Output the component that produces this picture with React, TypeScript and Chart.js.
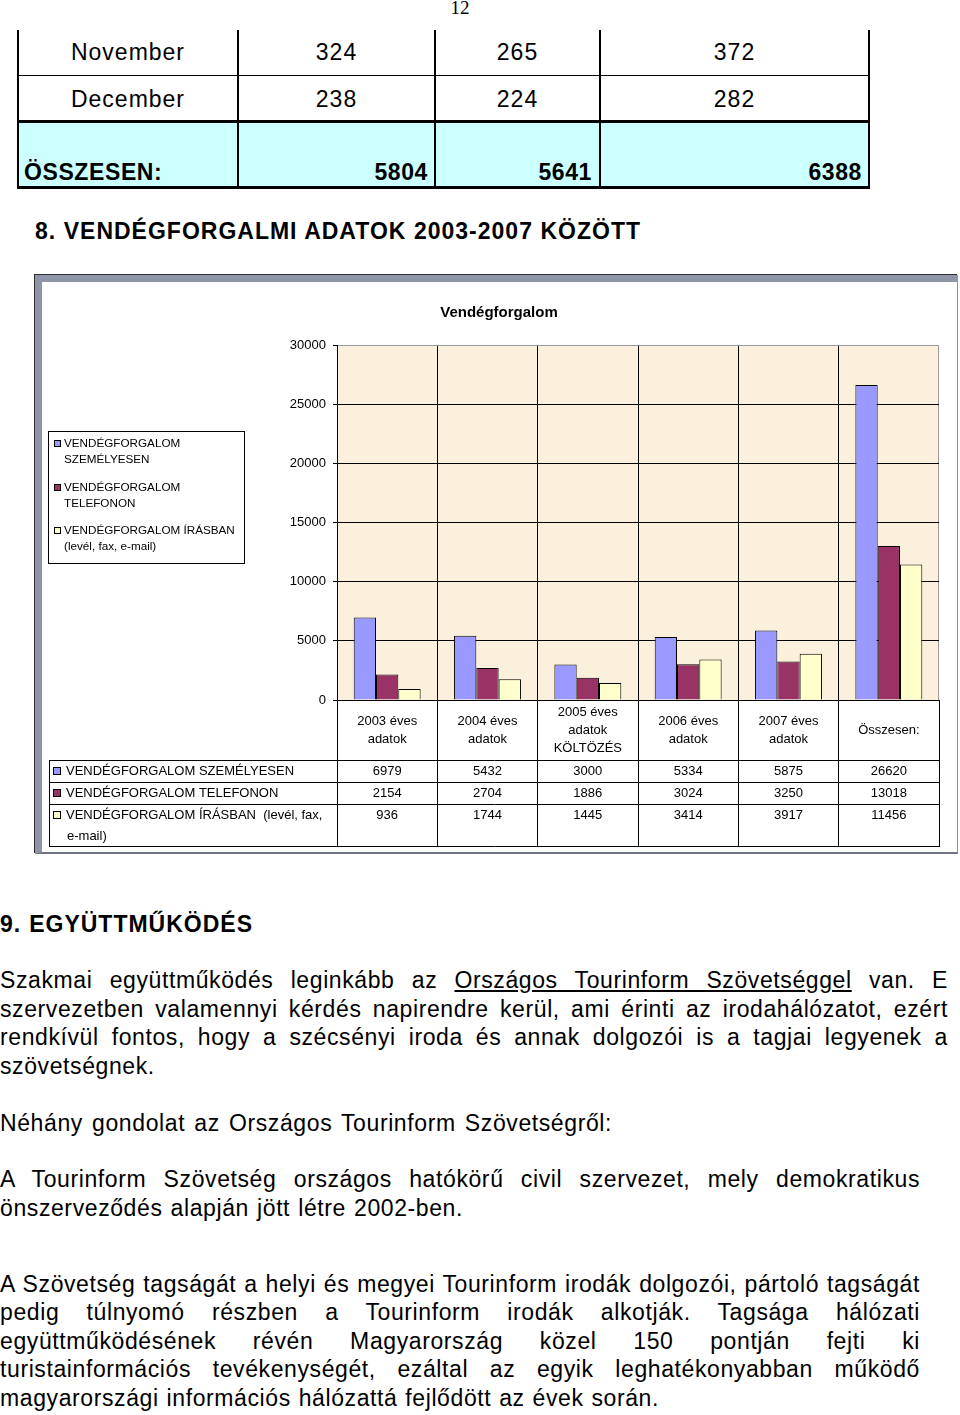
import React, { useEffect, useRef } from 'react';
import { Chart, registerables } from 'chart.js';

Chart.register(...registerables);

const FONT = '"Liberation Sans", Arial, Helvetica, sans-serif';

// ---- chart data ----
const categoryLabels: string[][] = [
  ['2003 éves', 'adatok'],
  ['2004 éves', 'adatok'],
  ['2005 éves', 'adatok', 'KÖLTÖZÉS'],
  ['2006 éves', 'adatok'],
  ['2007 éves', 'adatok'],
  ['Összesen:'],
];
const seriesNames = [
  'VENDÉGFORGALOM SZEMÉLYESEN',
  'VENDÉGFORGALOM TELEFONON',
  'VENDÉGFORGALOM ÍRÁSBAN (levél, fax, e-mail)',
];
const valuesSzemelyesen = [6979, 5432, 3000, 5334, 5875, 26620];
const valuesTelefonon = [2154, 2704, 1886, 3024, 3250, 13018];
const valuesIrasban = [936, 1744, 1445, 3414, 3917, 11456];
const seriesColors = ['#9999FF', '#993366', '#FFFFCC'];
const yAxisMax = 30000;
const yAxisStep = 5000;
const chartTitle = 'Vendégforgalom';
const legendBoxLines = [
  ['VENDÉGFORGALOM', 'SZEMÉLYESEN'],
  ['VENDÉGFORGALOM', 'TELEFONON'],
  ['VENDÉGFORGALOM ÍRÁSBAN', '(levél, fax, e-mail)'],
];
const dataTableLines = [
  ['VENDÉGFORGALOM SZEMÉLYESEN'],
  ['VENDÉGFORGALOM TELEFONON'],
  ['VENDÉGFORGALOM ÍRÁSBAN  (levél, fax,', 'e-mail)'],
];

// ---- page table data ----
const monthNames = ['November', 'December'];
const monthValues = [
  [324, 265, 372],
  [238, 224, 282],
];
const totalLabel = 'ÖSSZESEN:';
const totalValues = [5804, 5641, 6388];

// ---- layout constants (canvas coordinates) ----
const CANVAS_W = 925;
const CANVAS_H = 582;
const LABEL_ROW_H = 60;
const ROW_HEIGHTS = [22, 22, 42];
const TABLE_LEFT = 15;
const LEGEND_BOX = { x: 14, y: 157, w: 196, h: 132 };
const LEGEND_ITEM_TOPS = [170, 214, 257];

const al = (p: number) => Math.round(p - 0.5) + 0.5;

const excelPlugin = {
  id: 'excelDecor',
  beforeDraw(chart: any) {
    const { ctx, chartArea: a } = chart;
    ctx.save();
    ctx.fillStyle = '#FBF0DC';
    ctx.fillRect(a.left, a.top, a.right - a.left, a.bottom - a.top);
    ctx.restore();
  },
  afterDraw(chart: any) {
    const { ctx, chartArea: a } = chart;
    const xs = chart.scales.x;
    const n = categoryLabels.length;
    const half = (xs.getPixelForValue(1) - xs.getPixelForValue(0)) / 2;
    const rowTops: number[] = [a.bottom + LABEL_ROW_H];
    ROW_HEIGHTS.forEach((h) => rowTops.push(rowTops[rowTops.length - 1] + h));
    const bottom = rowTops[rowTops.length - 1];

    ctx.save();
    ctx.strokeStyle = '#000';
    ctx.lineWidth = 1;
    ctx.beginPath();
    for (let i = 0; i <= n; i++) {
      const x = al(xs.getPixelForValue(i) - half);
      ctx.moveTo(x, a.bottom);
      ctx.lineTo(x, bottom);
    }
    ctx.moveTo(al(TABLE_LEFT), rowTops[0]);
    ctx.lineTo(al(TABLE_LEFT), bottom);
    rowTops.forEach((y) => {
      ctx.moveTo(al(TABLE_LEFT) - 0.5, al(y));
      ctx.lineTo(al(a.right) + 0.5, al(y));
    });
    ctx.stroke();

    // data table values
    ctx.fillStyle = '#000';
    ctx.font = `13px ${FONT}`;
    ctx.textAlign = 'center';
    ctx.textBaseline = 'middle';
    chart.data.datasets.forEach((ds: any, s: number) => {
      ds.data.forEach((v: number, i: number) => {
        ctx.fillText(String(v), xs.getPixelForValue(i), rowTops[s] + 11);
      });
    });

    // data table legend keys
    ctx.textAlign = 'left';
    chart.data.datasets.forEach((ds: any, s: number) => {
      const yc = rowTops[s] + 11;
      ctx.fillStyle = ds.backgroundColor;
      ctx.fillRect(19, Math.round(yc - 4), 8, 8);
      ctx.strokeStyle = '#000';
      ctx.strokeRect(19.5, Math.round(yc - 4) + 0.5, 7, 7);
      ctx.fillStyle = '#000';
      dataTableLines[s].forEach((line, k) => {
        ctx.fillText(line, 32 + (k > 0 ? 1 : 0), yc + k * 21);
      });
    });

    // legend box
    ctx.strokeStyle = '#000';
    ctx.strokeRect(LEGEND_BOX.x + 0.5, LEGEND_BOX.y + 0.5, LEGEND_BOX.w, LEGEND_BOX.h);
    ctx.font = `11.7px ${FONT}`;
    chart.data.datasets.forEach((ds: any, s: number) => {
      const yc = LEGEND_ITEM_TOPS[s];
      ctx.fillStyle = ds.backgroundColor;
      ctx.fillRect(20, Math.round(yc - 4), 7, 7);
      ctx.strokeStyle = '#000';
      ctx.strokeRect(20.5, Math.round(yc - 4) + 0.5, 6, 6);
      ctx.fillStyle = '#000';
      legendBoxLines[s].forEach((line, k) => {
        ctx.fillText(line, 30, yc + k * 16);
      });
    });
    ctx.restore();
  },
};

function VendegChart() {
  const ref = useRef<HTMLCanvasElement | null>(null);
  useEffect(() => {
    if (!ref.current) return;
    const seriesValues = [valuesSzemelyesen, valuesTelefonon, valuesIrasban];
    const chart = new Chart(ref.current, {
      type: 'bar',
      data: {
        labels: categoryLabels,
        datasets: seriesValues.map((vals, i) => ({
          label: seriesNames[i],
          data: vals,
          backgroundColor: seriesColors[i],
          borderColor: '#000',
          borderWidth: 1,
          categoryPercentage: 0.667,
          barPercentage: 1,
        })),
      },
      options: {
        responsive: false,
        animation: false,
        events: [],
        devicePixelRatio: 1,
        layout: { padding: { left: 25, right: 20, top: 0, bottom: 0 } },
        plugins: {
          legend: { display: false },
          tooltip: { enabled: false },
          title: {
            display: true,
            text: chartTitle,
            color: '#000',
            font: { family: FONT, size: 15, weight: 'bold' },
            padding: { top: 30, bottom: 23 },
          },
        },
        scales: {
          x: {
            offset: true,
            grid: {
              offset: true,
              drawTicks: false,
              color: (c: any) => (c.type === 'tick' ? '#000' : '#9a9a9a'),
              lineWidth: 1,
            },
            border: { display: true, color: '#000', width: 1 },
            ticks: {
              color: '#000',
              font: { family: FONT, size: 13, lineHeight: 1.4 },
              padding: 12,
              crossAlign: 'center',
              maxRotation: 0,
              minRotation: 0,
              autoSkip: false,
            },
            afterFit: (scale: any) => {
              scale.height = 156;
            },
          },
          y: {
            min: 0,
            max: yAxisMax,
            grid: {
              color: (c: any) => (c.tick && c.tick.value === yAxisMax ? '#9a9a9a' : '#000'),
              tickColor: '#000',
              tickLength: 4,
              lineWidth: 1,
            },
            border: { display: true, color: '#000', width: 1 },
            ticks: {
              stepSize: yAxisStep,
              color: '#000',
              font: { family: FONT, size: 13 },
              padding: 7,
              callback: (v: any) => String(v),
            },
            afterFit: (scale: any) => {
              scale.width = 278;
            },
          },
        },
      } as any,
      plugins: [excelPlugin],
    });
    return () => chart.destroy();
  }, []);
  return (
    <canvas
      ref={ref}
      width={CANVAS_W}
      height={CANVAS_H}
      style={{ position: 'absolute', left: 34, top: 274, width: CANVAS_W, height: CANVAS_H }}
    />
  );
}

const baseText: React.CSSProperties = {
  position: 'absolute',
  fontFamily: FONT,
  fontSize: 23,
  lineHeight: '28px',
  color: '#000',
  margin: 0,
  padding: 0,
};

function Line(props: {
  x?: number;
  baseline: number;
  width?: number;
  bold?: boolean;
  justify?: boolean;
  spacing?: number;
  align?: 'left' | 'center' | 'right';
  children: React.ReactNode;
}) {
  const { x = 0, baseline, width, bold, justify, spacing = 0.6, align = 'left', children } = props;
  return (
    <div
      style={{
        ...baseText,
        left: x,
        top: baseline - 22,
        width,
        letterSpacing: `${spacing}px`,
        fontWeight: bold ? 700 : 400,
        textAlign: justify ? 'justify' : align,
        textAlignLast: justify ? 'justify' : (align as any),
        whiteSpace: justify ? 'normal' : 'nowrap',
      }}
    >
      {children}
    </div>
  );
}

const COLS = [18, 238, 435, 600, 869];

function TopTable() {
  const rowBaselines = [60, 107];
  const els: React.ReactNode[] = [];
  els.push(
    <div key="cyan" style={{ position: 'absolute', left: 18, top: 122, width: 851, height: 65, background: '#CCFFFF' }} />
  );
  COLS.forEach((x, i) =>
    els.push(
      <div key={'v' + i} style={{ position: 'absolute', left: x - 1, top: 30, width: 2, height: 159, background: '#000' }} />
    )
  );
  els.push(<div key="h1" style={{ position: 'absolute', left: 18, top: 75, width: 851, height: 1, background: '#000' }} />);
  els.push(<div key="h2" style={{ position: 'absolute', left: 17, top: 120, width: 853, height: 3, background: '#000' }} />);
  els.push(<div key="h3" style={{ position: 'absolute', left: 17, top: 186, width: 853, height: 3, background: '#000' }} />);

  monthNames.forEach((m, r) => {
    els.push(
      <Line key={'m' + r} x={COLS[0]} width={COLS[1] - COLS[0]} baseline={rowBaselines[r]} align="center" spacing={1}>
        {m}
      </Line>
    );
    monthValues[r].forEach((v, c) =>
      els.push(
        <Line
          key={'mv' + r + c}
          x={COLS[c + 1]}
          width={COLS[c + 2] - COLS[c + 1]}
          baseline={rowBaselines[r]}
          align="center"
          spacing={1}
        >
          {String(v)}
        </Line>
      )
    );
  });
  els.push(
    <Line key="tot" x={24} baseline={180} bold spacing={0.6}>
      {totalLabel}
    </Line>
  );
  const rightEdges = [428, 592, 862];
  totalValues.forEach((v, c) =>
    els.push(
      <Line key={'tv' + c} x={rightEdges[c] - 150} width={150} baseline={180} bold align="right" spacing={0.6}>
        {String(v)}
      </Line>
    )
  );
  return <>{els}</>;
}

export default function App() {
  return (
    <div
      style={{
        position: 'absolute',
        left: 0,
        top: 0,
        width: 960,
        height: 1415,
        background: '#fff',
        overflow: 'hidden',
      }}
    >
      <div
        style={{
          position: 'absolute',
          left: 440,
          top: -2,
          width: 40,
          textAlign: 'center',
          fontFamily: '"Liberation Serif", "Times New Roman", serif',
          fontSize: 19,
          lineHeight: '20px',
          color: '#000',
        }}
      >
        12
      </div>

      <TopTable />

      <Line x={35} baseline={238.5} width={606} bold justify spacing={1}>
        8. VENDÉGFORGALMI ADATOK 2003-2007 KÖZÖTT
      </Line>

      {/* chart frame */}
      <div
        style={{
          position: 'absolute',
          left: 35,
          top: 275,
          width: 923,
          height: 579,
          boxSizing: 'border-box',
          borderTop: '7px solid #8D95A7',
          borderLeft: '7px solid #8D95A7',
          borderRight: '1px solid #8D95A7',
          borderBottom: '2px solid #6F7582',
          boxShadow: '-1px -1px 0 0 #2f2f2f',
          background: '#fff',
        }}
      />
      <VendegChart />

      <Line x={0} baseline={932} width={253} bold justify spacing={1}>
        9. EGYÜTTMŰKÖDÉS
      </Line>

      <Line x={0} baseline={988} width={948} justify>
        Szakmai együttműködés leginkább az{' '}
        <span style={{ textDecoration: 'underline' }}>Országos Tourinform Szövetséggel</span> van. E
      </Line>
      <Line x={0} baseline={1016.5} width={948} justify>
        szervezetben valamennyi kérdés napirendre kerül, ami érinti az irodahálózatot, ezért
      </Line>
      <Line x={0} baseline={1045} width={948} justify>
        rendkívül fontos, hogy a szécsényi iroda és annak dolgozói is a tagjai legyenek a
      </Line>
      <Line x={0} baseline={1073.5} width={948}>
        szövetségnek.
      </Line>

      <Line x={0} baseline={1131} width={612} justify>
        Néhány gondolat az Országos Tourinform Szövetségről:
      </Line>

      <Line x={0} baseline={1186.5} width={920} justify>
        A Tourinform Szövetség országos hatókörű civil szervezet, mely demokratikus
      </Line>
      <Line x={0} baseline={1215.5} width={463} justify>
        önszerveződés alapján jött létre 2002-ben.
      </Line>

      <Line x={0} baseline={1291.5} width={920} justify>
        A Szövetség tagságát a helyi és megyei Tourinform irodák dolgozói, pártoló tagságát
      </Line>
      <Line x={0} baseline={1320} width={920} justify>
        pedig túlnyomó részben a Tourinform irodák alkotják. Tagsága hálózati
      </Line>
      <Line x={0} baseline={1348.5} width={920} justify>
        együttműködésének révén Magyarország közel 150 pontján fejti ki
      </Line>
      <Line x={0} baseline={1377} width={920} justify>
        turistainformációs tevékenységét, ezáltal az egyik leghatékonyabban működő
      </Line>
      <Line x={0} baseline={1405.5} width={659} justify>
        magyarországi információs hálózattá fejlődött az évek során.
      </Line>
    </div>
  );
}
